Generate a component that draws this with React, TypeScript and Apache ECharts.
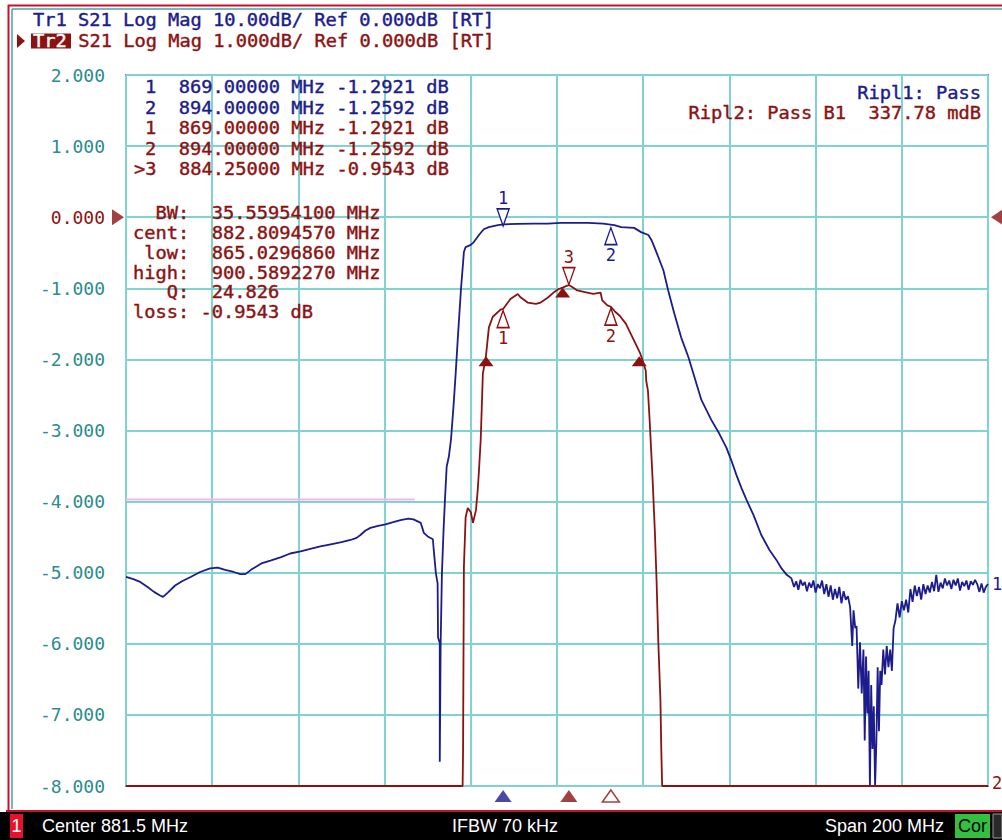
import React, { useEffect, useRef } from "react";
import * as echarts from "echarts";

const BLUE = "#1c1c8c";
const RED = "#8c1212";
const GRID = "#7fd3d3";
const BORDER = "#3b9a9a";
const TEAL_TEXT = "#2b8c8c";
const PINK = "#f2b6f2";
const MONO = '"DejaVu Sans Mono", "Liberation Mono", monospace';
const SANS = '"Liberation Sans", Arial, sans-serif';

// ---- axes ----
const startMHz = 781.5;
const stopMHz = 981.5;
const divMHz = 20;
const tr2Min = -8;
const tr2Max = 2;
const tr2Div = 1;
const tr1Min = -80;
const tr1Max = 20;
const tr1Div = 10;

// ---- Tr1 (10 dB/div) : [MHz, dB] ----
const tr1Low = [
  [781.5, -50.6], [783.2, -50.9], [784.8, -51.3], [786.5, -52.0], [788, -52.7], [789.4, -53.2],
  [790.1, -53.4], [791.2, -52.8], [792.9, -51.8], [794.5, -51.2], [796.5, -50.6], [798.7, -49.9],
  [801.0, -49.4], [802.8, -49.3], [804.5, -49.6], [806.5, -49.9], [808, -50.2], [809.2, -50.2],
  [810.5, -49.6], [812.9, -48.7], [815, -48.3], [817.5, -47.8], [819.6, -47.3], [822, -47.0],
  [824.5, -46.6], [826.6, -46.3], [829, -46.0], [831.5, -45.7], [833.6, -45.4], [835.0, -45.1],
  [835.9, -44.7], [837, -44.1], [838.2, -43.7], [840, -43.4], [841.7, -43.2], [843.5, -42.9],
  [845.2, -42.6], [847, -42.4], [848.2, -42.5], [849.9, -43.0], [850.6, -44.4], [851.5, -44.9],
  [852.7, -45.3], [852.9, -46.8], [853.4, -50.1], [853.8, -51.5], [853.9, -59.1], [854.3, -59.9],
  [854.3, -76.6], [854.5, -60.2], [854.8, -50.1], [855.2, -43.7], [855.5, -39.8], [855.9, -35.1],
  [856.4, -33.7], [856.9, -31.3], [857.5, -26.5], [858.0, -21.9], [858.5, -16.9], [859.2, -10.3],
  [859.9, -4.9], [860.3, -4.2],
];
const tr1Pass = [
  [861.5, -3.9], [862.2, -3.5], [863.4, -2.5], [864.5, -1.7], [865.7, -1.4], [867.8, -1.1],
  [869.2, -1.0], [872.4, -0.95], [876, -0.9], [879.4, -0.9], [882.4, -0.8], [885.5, -0.8],
  [888.7, -0.8], [892.2, -0.9], [894.8, -1.1], [896.4, -1.4], [899.4, -1.5], [901.0, -2.1],
  [902.7, -2.5], [903.4, -3.2], [904.1, -4.2], [905.0, -5.6], [906.2, -7.5], [907.3, -10.3],
  [908.7, -13.5], [910.3, -16.9], [912.0, -19.7], [913.4, -22.5], [915.0, -25.7], [917.3, -28.5],
  [919.2, -30.5], [920.8, -32.4], [922.0, -34.3], [923.1, -36.2], [924.3, -38.1], [925.5, -39.8],
  [927.1, -41.9], [928.9, -44.7], [930.8, -46.8], [932.4, -48.2], [933.6, -49.4], [934.8, -50.3],
  [935.9, -50.8],
];
const tr1High = [
  [936.5, -52.0], [937, -51.2], [937.5, -52.4], [938, -51.0], [938.5, -51.8], [939, -51.3],
  [939.5, -52.6], [940, -51.4], [940.5, -52.1], [941, -51.1], [941.5, -52.8], [942, -51.6],
  [942.5, -52.2], [943, -51.1], [943.5, -53.0], [944, -51.6], [944.5, -53.4], [945, -51.8],
  [945.5, -53.8], [946, -52.3], [946.5, -53.6], [947, -52.0], [947.5, -54.3], [948, -52.6],
  [948.5, -53.8], [949.0, -53.3], [949.5, -54.8], [950.0, -60.3], [950.3, -55.3], [950.7, -57.8],
  [951.0, -57.5], [951.4, -66.3], [951.8, -59.8], [952.2, -67.0], [952.6, -60.8], [952.9, -73.6],
  [953.2, -61.8], [953.5, -69.8], [953.8, -63.8], [954.1, -80.0], [954.4, -65.8], [954.7, -74.8],
  [955.0, -68.8], [955.3, -80.0], [955.6, -73.8], [955.9, -63.3], [956.2, -72.3], [956.5, -63.8],
  [956.8, -65.8], [957.2, -60.8], [957.6, -64.3], [958.0, -60.3], [958.4, -63.3], [958.8, -60.8],
  [959.2, -63.8], [959.6, -57.8], [960.0, -56.8], [960.5, -54.3], [961.0, -56.3], [961.5, -54.0],
  [962.0, -55.3], [962.5, -53.8], [963.0, -55.6], [963.5, -52.3], [964.0, -54.1], [964.5, -51.8],
  [965.0, -53.3], [965.5, -52.0], [966.0, -53.8], [966.5, -51.6], [967.0, -53.0], [967.5, -51.8],
  [968.0, -52.8], [968.5, -51.3], [969.0, -52.6], [969.5, -50.3], [970.0, -52.7], [970.5, -51.4],
  [971.0, -52.2], [971.5, -50.8], [972.0, -51.8], [972.5, -51.1], [973.0, -52.3], [973.5, -51.0],
  [974.0, -51.8], [974.5, -50.8], [975.0, -52.5], [975.5, -51.3], [976.0, -51.9], [976.5, -51.1],
  [977.0, -52.4], [977.5, -51.2], [978.0, -51.7], [978.5, -51.0], [979.0, -51.6], [979.5, -52.7],
  [980.0, -51.5], [980.5, -52.8], [981.0, -52.0], [981.5, -51.6],
];

// ---- Tr2 (1 dB/div) : [MHz, dB] ----
const tr2Data = [
  [781.5, -8], [859.6, -8], [859.7, -7.55], [859.9, -4.92], [860.3, -4.22], [860.8, -4.09],
  [861.5, -4.15], [862.0, -4.30], [862.7, -4.12], [863.1, -3.84], [863.4, -3.56], [863.8, -3.13],
  [864.3, -2.2], [865.0, -1.96], [865.7, -1.55], [866.6, -1.40], [868.4, -1.30], [869.0, -1.29],
  [870.7, -1.15], [872.4, -1.08], [873.1, -1.13], [874.7, -1.20], [876.6, -1.22], [877.7, -1.20],
  [879.4, -1.13], [880.7, -1.06], [881.9, -1.01], [882.8, -0.99], [883.6, -0.97], [884.25, -0.954],
  [885.2, -0.99], [886.2, -1.03], [888.5, -1.06], [889.9, -1.08], [891.6, -1.06], [892.0, -1.17],
  [893.2, -1.24], [894.0, -1.26], [895.0, -1.33], [896.1, -1.39], [897.5, -1.50], [899.1, -1.70],
  [900.7, -1.90], [901.4, -2.02], [902.1, -2.16], [902.2, -2.30], [902.6, -2.44], [903.0, -2.86],
  [903.7, -3.71], [904.2, -4.41], [904.6, -5.11], [905.0, -5.96], [905.5, -6.80], [905.7, -7.50],
  [905.9, -8], [981.5, -8],
];

// limit line (Tr1 scale)
const limitLine = [[781.5, -39.7], [848.5, -39.7]];

// markers
const tr1Markers = [
  { name: "1", freq: 869.0, value: -1.2921, side: "above" },
  { name: "2", freq: 894.0, value: -1.2592, side: "below" },
];
const tr2Markers = [
  { name: "1", freq: 869.0, value: -1.2921, side: "below" },
  { name: "2", freq: 894.0, value: -1.2592, side: "below" },
  { name: "3", freq: 884.25, value: -0.9543, side: "above" },
];
const bwPoints = [[865.029686, -1.9543], [882.809457, -0.99], [900.589227, -1.9543]];
const stimulusMarks = [
  { freq: 869.0, color: BLUE, filled: true },
  { freq: 884.25, color: RED, filled: true },
  { freq: 894.0, color: RED, filled: false },
];

// texts
const headerTr1 = "Tr1 S21 Log Mag 10.00dB/ Ref 0.000dB [RT]";
const headerTr2Name = "Tr2";
const headerTr2 = "S21 Log Mag 1.000dB/ Ref 0.000dB [RT]";
const markerRowsBlue = ["1  869.00000 MHz -1.2921 dB", "2  894.00000 MHz -1.2592 dB"];
const markerRowsRed = ["1  869.00000 MHz -1.2921 dB", "2  894.00000 MHz -1.2592 dB"];
const activeRow = ">3  884.25000 MHz -0.9543 dB";
const bwRows = [
  "  BW:  35.55954100 MHz",
  "cent:  882.8094570 MHz",
  " low:  865.0296860 MHz",
  "high:  900.5892270 MHz",
  "   Q:  24.826",
  "loss: -0.9543 dB",
];
const ripple1 = "Ripl1: Pass";
const ripple2 = "Ripl2: Pass B1  337.78 mdB";
const statusCenter = "Center 881.5 MHz";
const statusIfbw = "IFBW 70 kHz";
const statusSpan = "Span 200 MHz";

const DOWN_TRI = "path://M0,0L12,0L6,17Z";
const UP_TRI = "path://M6,0L12,17L0,17Z";
const RIGHT_TRI = "path://M0,0L12,8L0,16Z";
const LEFT_TRI = "path://M12,0L0,8L12,16Z";

const mono = (text: string, x: number, y: number, fill: string, align = "left") => ({
  type: "text",
  x,
  y,
  scaleX: 1.1,
  z: 100,
  style: {
    text,
    fill,
    stroke: fill,
    lineWidth: 0.4,
    font: `17px ${MONO}`,
    align,
    textAlign: align,
    verticalAlign: "middle",
    textVerticalAlign: "middle",
  },
});

const sans = (text: string, x: number, y: number, fill: string, align = "left") => ({
  type: "text",
  x,
  y,
  z: 100,
  style: {
    text,
    fill,
    font: `18px ${SANS}`,
    align,
    textAlign: align,
    verticalAlign: "middle",
    textVerticalAlign: "middle",
  },
});

const markerItem = (m: any, color: string) => {
  const above = m.side === "above";
  return {
    name: m.name,
    coord: [m.freq, m.value],
    symbol: above ? DOWN_TRI : UP_TRI,
    symbolSize: [12, 17],
    symbolOffset: [0, above ? -9 : 10],
    itemStyle: { color: "#ffffff", borderColor: color, borderWidth: 1.5 },
    label: {
      show: true,
      formatter: m.name,
      position: above ? "top" : "bottom",
      distance: 1,
      color,
      fontFamily: MONO,
      fontSize: 17,
    },
  };
};

function buildOption() {
  const graphic: any[] = [
    // frame
    { type: "line", z: 90, shape: { x1: 8.5, y1: 5, x2: 8.5, y2: 811 }, style: { stroke: "#c8102e", lineWidth: 2 } },
    { type: "line", z: 90, shape: { x1: 8, y1: 5.5, x2: 1002, y2: 5.5 }, style: { stroke: "#c8102e", lineWidth: 2 } },
    { type: "line", z: 90, shape: { x1: 12, y1: 9, x2: 12, y2: 809 }, style: { stroke: "#4aa3a3", lineWidth: 1.5 } },
    { type: "line", z: 90, shape: { x1: 12, y1: 9, x2: 1002, y2: 9 }, style: { stroke: "#4aa3a3", lineWidth: 1.5 } },
    // status bar
    { type: "rect", z: 90, shape: { x: 0, y: 812, width: 1002, height: 28 }, style: { fill: "#000000" } },
    { type: "line", z: 91, shape: { x1: 6, y1: 811, x2: 1002, y2: 811 }, style: { stroke: "#c8102e", lineWidth: 2 } },
    { type: "rect", z: 91, shape: { x: 10, y: 814, width: 13, height: 24 }, style: { fill: "#e8102a" } },
    sans("1", 16.5, 826, "#ffffff", "center"),
    sans(statusCenter, 42, 826, "#ffffff"),
    sans(statusIfbw, 452, 826, "#ffffff"),
    sans(statusSpan, 944, 826, "#ffffff", "right"),
    { type: "rect", z: 91, shape: { x: 955, y: 814, width: 35, height: 24 }, style: { fill: "#33c040" } },
    sans("Cor", 972.5, 826, "#000000", "center"),
    { type: "rect", z: 91, shape: { x: 993, y: 814, width: 9, height: 24 }, style: { fill: "#2a2a2a", stroke: "#9a9a9a", lineWidth: 1 } },
    // header
    mono(headerTr1, 33, 20, BLUE),
    { type: "polygon", z: 95, shape: { points: [[17, 34], [25, 41], [17, 48]] }, style: { fill: RED } },
    { type: "rect", z: 95, shape: { x: 31, y: 33.5, width: 40, height: 15 }, style: { fill: RED } },
    mono(headerTr2Name, 33, 41, "#ffffff"),
    mono(headerTr2, 78.2, 41, RED),
    // ripple
    mono(ripple1, 981, 93, BLUE, "right"),
    mono(ripple2, 981, 113, RED, "right"),
  ];
  markerRowsBlue.forEach((r, i) => graphic.push(mono(r, 145, 87 + i * 20.5, BLUE)));
  markerRowsRed.forEach((r, i) => graphic.push(mono(r, 145, 128 + i * 20.5, RED)));
  graphic.push(mono(activeRow, 134, 169, RED));
  bwRows.forEach((r, i) => graphic.push(mono(r, 133, 213 + i * 19.8, RED)));

  return {
    animation: false,
    backgroundColor: "#ffffff",
    grid: {
      left: 126,
      top: 75,
      width: 862,
      height: 711,
      show: true,
      borderColor: BORDER,
      borderWidth: 2,
      backgroundColor: "transparent",
    },
    xAxis: {
      type: "value",
      min: startMHz,
      max: stopMHz,
      interval: divMHz,
      axisLabel: { show: false },
      axisTick: { show: false },
      axisLine: { show: false },
      splitLine: { show: true, lineStyle: { color: GRID, width: 2 } },
    },
    yAxis: [
      {
        type: "value",
        min: tr2Min,
        max: tr2Max,
        interval: tr2Div,
        axisLine: { show: false },
        axisTick: { show: false },
        splitLine: { show: true, lineStyle: { color: GRID, width: 2 } },
        axisLabel: {
          margin: 21,
          fontFamily: MONO,
          fontSize: 18,
          color: TEAL_TEXT,
          formatter: (v: number) => (v === 0 ? "{r|0.000}" : v.toFixed(3)),
          rich: { r: { color: RED, fontFamily: MONO, fontSize: 18 } },
        },
      },
      {
        type: "value",
        min: tr1Min,
        max: tr1Max,
        interval: tr1Div,
        show: false,
        splitLine: { show: false },
      },
    ],
    series: [
      {
        name: "Limit",
        type: "line",
        yAxisIndex: 1,
        data: limitLine,
        symbol: "none",
        lineStyle: { color: PINK, width: 2 },
        z: 2,
        silent: true,
      },
      {
        name: "Tr1",
        type: "line",
        yAxisIndex: 1,
        data: [...tr1Low, ...tr1Pass, ...tr1High],
        symbol: "none",
        clip: false,
        lineStyle: { color: BLUE, width: 1.8 },
        z: 4,
        endLabel: { show: true, formatter: "1", color: BLUE, fontFamily: MONO, fontSize: 17, distance: 4 },
        markPoint: { data: tr1Markers.map((m) => markerItem(m, BLUE)) },
      },
      {
        name: "Tr2",
        type: "line",
        yAxisIndex: 0,
        data: tr2Data,
        symbol: "none",
        clip: false,
        lineStyle: { color: RED, width: 1.8 },
        z: 5,
        endLabel: { show: true, formatter: "2", color: RED, fontFamily: MONO, fontSize: 17, distance: 4, offset: [0, -3] },
        markPoint: {
          data: [
            ...tr2Markers.map((m) => markerItem(m, RED)),
            ...bwPoints.map((p) => ({
              coord: p,
              symbol: "triangle",
              symbolSize: [15, 10],
              symbolOffset: [0, 5],
              itemStyle: { color: RED },
              label: { show: false },
            })),
          ],
        },
      },
      {
        name: "Stimulus",
        type: "scatter",
        yAxisIndex: 0,
        clip: false,
        z: 6,
        symbol: "triangle",
        symbolSize: [17, 12],
        symbolOffset: [0, 10],
        data: stimulusMarks.map((s) => ({
          value: [s.freq, tr2Min],
          itemStyle: s.filled
            ? { color: s.color }
            : { color: "#ffffff", borderColor: s.color, borderWidth: 1.5 },
        })),
      },
      {
        name: "Ref",
        type: "scatter",
        yAxisIndex: 0,
        clip: false,
        z: 6,
        data: [
          { value: [startMHz, 0], symbol: RIGHT_TRI, symbolSize: [12, 16], symbolOffset: [-8, 0], itemStyle: { color: RED } },
          { value: [stopMHz, 0], symbol: LEFT_TRI, symbolSize: [12, 16], symbolOffset: [9, 0], itemStyle: { color: RED } },
        ],
      },
    ],
    graphic,
  };
}

export default function App() {
  const ref = useRef<HTMLDivElement>(null);
  useEffect(() => {
    const chart = echarts.init(ref.current as HTMLDivElement, null, { renderer: "svg" });
    chart.setOption(buildOption() as any);
    return () => chart.dispose();
  }, []);
  return (
    <div style={{ position: "absolute", left: 0, top: 0, width: 1002, height: 840, background: "#ffffff" }}>
      <div ref={ref} style={{ width: 1002, height: 840 }} />
    </div>
  );
}
